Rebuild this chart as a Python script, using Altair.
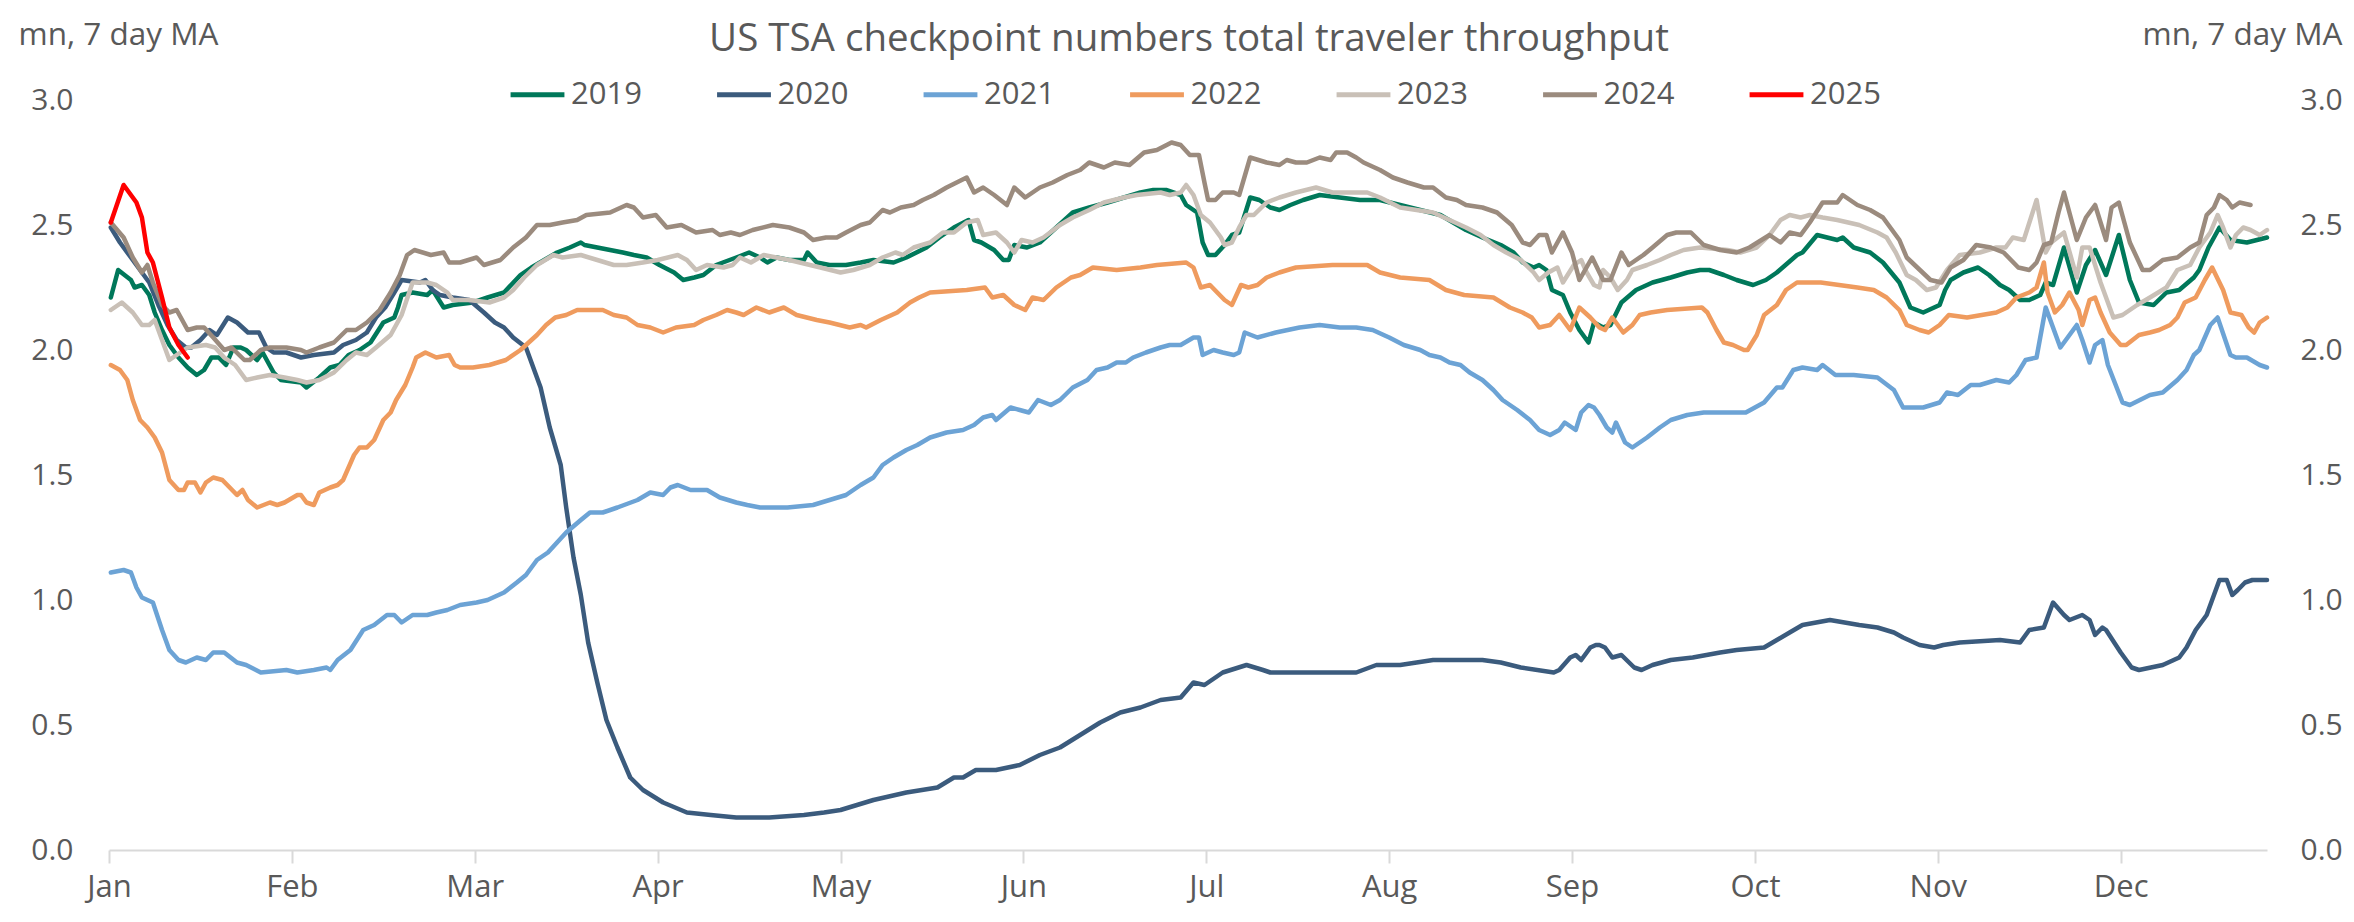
import json
import pandas as pd
import altair as alt

TITLE = "US TSA checkpoint numbers total traveler throughput"
UNIT = "mn, 7 day MA"
MONTHS = ["Jan", "Feb", "Mar", "Apr", "May", "Jun", "Jul", "Aug", "Sep", "Oct", "Nov", "Dec"]
YEARS = ["2019", "2020", "2021", "2022", "2023", "2024", "2025"]
COLORS = ["#00785A", "#3B5B7D", "#6CA3D5", "#EF9B5E", "#C9C0B7", "#9B8B7E", "#FF0000"]
Y_TICKS = [0.0, 0.5, 1.0, 1.5, 2.0, 2.5, 3.0]

# (position in months from 1 Jan, travellers in mn, 7 day moving average)
S2019 = [(0.01,2.21),(0.05,2.32),(0.12,2.28),(0.14,2.25),(0.18,2.26),(0.22,2.22),(0.25,2.15),(0.29,2.08),(0.33,2.02),(0.38,1.97),(0.43,1.93),(0.48,1.90),(0.52,1.92),(0.56,1.97),(0.60,1.97),(0.64,1.94),(0.68,2.01),(0.72,2.01),(0.75,2.00),(0.81,1.96),(0.84,1.99),(0.90,1.91),(0.94,1.88),(1.05,1.87),(1.08,1.85),(1.15,1.89),(1.21,1.93),(1.26,1.94),(1.31,1.98),(1.37,2.00),(1.43,2.03),(1.50,2.11),(1.56,2.13),(1.58,2.17),(1.60,2.22),(1.66,2.23),(1.74,2.22),(1.77,2.24),(1.83,2.17),(1.88,2.18),(1.99,2.19),(2.07,2.21),(2.16,2.23),(2.25,2.30),(2.31,2.33),(2.38,2.36),(2.45,2.39),(2.52,2.41),(2.58,2.43),(2.60,2.42),(2.67,2.41),(2.74,2.40),(2.81,2.39),(2.87,2.38),(2.94,2.37),(3.01,2.34),(3.09,2.31),(3.14,2.28),(3.20,2.29),(3.25,2.30),(3.32,2.34),(3.43,2.37),(3.50,2.39),(3.56,2.37),(3.60,2.35),(3.65,2.37),(3.72,2.36),(3.80,2.36),(3.82,2.39),(3.87,2.35),(3.94,2.34),(4.03,2.34),(4.11,2.35),(4.18,2.36),(4.29,2.35),(4.36,2.37),(4.47,2.41),(4.54,2.45),(4.62,2.49),(4.70,2.52),(4.73,2.44),(4.77,2.43),(4.84,2.40),(4.89,2.36),(4.92,2.36),(4.95,2.42),(5.02,2.41),(5.09,2.43),(5.18,2.49),(5.27,2.55),(5.36,2.57),(5.46,2.59),(5.55,2.61),(5.64,2.63),(5.71,2.64),(5.78,2.64),(5.86,2.62),(5.89,2.58),(5.95,2.55),(5.98,2.43),(6.01,2.38),(6.05,2.38),(6.10,2.42),(6.14,2.46),(6.18,2.47),(6.24,2.61),(6.29,2.60),(6.35,2.57),(6.40,2.56),(6.46,2.58),(6.53,2.60),(6.62,2.62),(6.73,2.61),(6.84,2.60),(6.95,2.60),(7.06,2.58),(7.17,2.56),(7.28,2.54),(7.35,2.51),(7.42,2.48),(7.51,2.45),(7.61,2.42),(7.68,2.39),(7.73,2.35),(7.79,2.33),(7.82,2.34),(7.86,2.32),(7.89,2.24),(7.95,2.22),(7.99,2.15),(8.04,2.08),(8.09,2.03),(8.12,2.11),(8.17,2.09),(8.21,2.10),(8.27,2.19),(8.35,2.24),(8.44,2.27),(8.54,2.29),(8.63,2.31),(8.70,2.32),(8.75,2.32),(8.83,2.30),(8.90,2.28),(8.99,2.26),(9.06,2.28),(9.12,2.31),(9.23,2.38),(9.26,2.39),(9.34,2.46),(9.45,2.44),(9.48,2.45),(9.54,2.41),(9.63,2.39),(9.70,2.35),(9.79,2.27),(9.85,2.17),(9.92,2.15),(10.01,2.18),(10.04,2.24),(10.07,2.28),(10.14,2.31),(10.22,2.33),(10.28,2.30),(10.34,2.26),(10.39,2.24),(10.45,2.20),(10.50,2.20),(10.56,2.22),(10.59,2.27),(10.63,2.26),(10.69,2.41),(10.76,2.23),(10.81,2.34),(10.86,2.40),(10.92,2.30),(10.99,2.46),(11.05,2.28),(11.10,2.19),(11.18,2.18),(11.25,2.23),(11.32,2.24),(11.40,2.29),(11.43,2.32),(11.48,2.41),(11.54,2.49),(11.60,2.44),(11.69,2.43),(11.80,2.45)]

S2020 = [(0.01,2.49),(0.06,2.43),(0.12,2.37),(0.17,2.32),(0.22,2.27),(0.27,2.18),(0.32,2.10),(0.37,2.04),(0.42,2.01),(0.45,2.01),(0.50,2.04),(0.55,2.08),(0.59,2.06),(0.65,2.13),(0.70,2.11),(0.76,2.07),(0.82,2.07),(0.86,2.01),(0.90,1.99),(0.97,1.99),(1.05,1.97),(1.12,1.98),(1.23,1.99),(1.28,2.02),(1.35,2.04),(1.41,2.07),(1.46,2.13),(1.51,2.17),(1.56,2.23),(1.60,2.28),(1.70,2.27),(1.73,2.28),(1.77,2.24),(1.81,2.22),(1.88,2.21),(1.97,2.20),(2.05,2.15),(2.11,2.11),(2.16,2.09),(2.21,2.05),(2.28,2.01),(2.30,1.97),(2.36,1.85),(2.41,1.69),(2.47,1.54),(2.50,1.37),(2.54,1.17),(2.58,1.02),(2.62,0.83),(2.67,0.67),(2.72,0.52),(2.78,0.41),(2.85,0.29),(2.92,0.24),(3.03,0.19),(3.16,0.15),(3.29,0.14),(3.43,0.13),(3.61,0.13),(3.80,0.14),(3.91,0.15),(4.00,0.16),(4.18,0.20),(4.36,0.23),(4.53,0.25),(4.62,0.29),(4.67,0.29),(4.74,0.32),(4.85,0.32),(4.98,0.34),(5.09,0.38),(5.20,0.41),(5.31,0.46),(5.42,0.51),(5.53,0.55),(5.64,0.57),(5.75,0.60),(5.86,0.61),(5.93,0.67),(5.99,0.66),(6.09,0.71),(6.22,0.74),(6.31,0.72),(6.35,0.71),(6.51,0.71),(6.69,0.71),(6.82,0.71),(6.93,0.74),(7.06,0.74),(7.24,0.76),(7.39,0.76),(7.51,0.76),(7.61,0.75),(7.72,0.73),(7.90,0.71),(7.93,0.72),(7.99,0.77),(8.02,0.78),(8.05,0.76),(8.10,0.81),(8.13,0.82),(8.15,0.82),(8.18,0.81),(8.22,0.77),(8.27,0.78),(8.34,0.73),(8.38,0.72),(8.44,0.74),(8.54,0.76),(8.66,0.77),(8.81,0.79),(8.90,0.80),(9.05,0.81),(9.12,0.84),(9.19,0.87),(9.26,0.90),(9.41,0.92),(9.57,0.90),(9.67,0.89),(9.76,0.87),(9.81,0.85),(9.90,0.82),(9.98,0.81),(10.03,0.82),(10.12,0.83),(10.34,0.84),(10.45,0.83),(10.50,0.88),(10.58,0.89),(10.63,0.99),(10.69,0.94),(10.72,0.92),(10.79,0.94),(10.83,0.92),(10.86,0.86),(10.90,0.89),(10.92,0.88),(11.00,0.79),(11.06,0.73),(11.10,0.72),(11.23,0.74),(11.32,0.77),(11.36,0.81),(11.41,0.88),(11.47,0.94),(11.51,1.02),(11.54,1.08),(11.58,1.08),(11.61,1.02),(11.64,1.04),(11.68,1.07),(11.72,1.08),(11.80,1.08)]

S2021 = [(0.01,1.11),(0.08,1.12),(0.12,1.11),(0.15,1.05),(0.18,1.01),(0.24,0.99),(0.29,0.88),(0.33,0.80),(0.38,0.76),(0.42,0.75),(0.48,0.77),(0.53,0.76),(0.57,0.79),(0.63,0.79),(0.70,0.75),(0.75,0.74),(0.83,0.71),(0.97,0.72),(1.03,0.71),(1.12,0.72),(1.19,0.73),(1.21,0.72),(1.25,0.76),(1.32,0.80),(1.39,0.88),(1.45,0.90),(1.52,0.94),(1.56,0.94),(1.60,0.91),(1.66,0.94),(1.74,0.94),(1.79,0.95),(1.85,0.96),(1.92,0.98),(2.01,0.99),(2.07,1.00),(2.16,1.03),(2.23,1.07),(2.28,1.10),(2.34,1.16),(2.40,1.19),(2.45,1.23),(2.50,1.27),(2.58,1.32),(2.63,1.35),(2.70,1.35),(2.78,1.37),(2.89,1.40),(2.96,1.43),(3.03,1.42),(3.07,1.45),(3.11,1.46),(3.18,1.44),(3.27,1.44),(3.34,1.41),(3.43,1.39),(3.49,1.38),(3.56,1.37),(3.71,1.37),(3.85,1.38),(3.94,1.40),(4.03,1.42),(4.11,1.46),(4.18,1.49),(4.23,1.54),(4.29,1.57),(4.36,1.60),(4.42,1.62),(4.49,1.65),(4.58,1.67),(4.67,1.68),(4.73,1.70),(4.78,1.73),(4.83,1.74),(4.85,1.72),(4.93,1.77),(4.98,1.76),(5.03,1.75),(5.08,1.80),(5.15,1.78),(5.20,1.80),(5.27,1.85),(5.35,1.88),(5.40,1.92),(5.46,1.93),(5.51,1.95),(5.56,1.95),(5.60,1.97),(5.67,1.99),(5.75,2.01),(5.80,2.02),(5.86,2.02),(5.93,2.05),(5.96,2.05),(5.98,1.98),(6.04,2.00),(6.09,1.99),(6.15,1.98),(6.18,1.99),(6.21,2.07),(6.28,2.05),(6.38,2.07),(6.51,2.09),(6.62,2.10),(6.73,2.09),(6.82,2.09),(6.91,2.08),(7.00,2.05),(7.08,2.02),(7.17,2.00),(7.22,1.98),(7.28,1.97),(7.33,1.95),(7.39,1.94),(7.44,1.91),(7.51,1.88),(7.57,1.84),(7.62,1.80),(7.70,1.76),(7.77,1.72),(7.82,1.68),(7.88,1.66),(7.93,1.68),(7.96,1.71),(8.02,1.68),(8.05,1.75),(8.09,1.78),(8.12,1.77),(8.15,1.74),(8.19,1.69),(8.22,1.67),(8.24,1.71),(8.29,1.63),(8.33,1.61),(8.41,1.65),(8.48,1.69),(8.54,1.72),(8.63,1.74),(8.72,1.75),(8.95,1.75),(9.05,1.79),(9.12,1.85),(9.15,1.85),(9.21,1.92),(9.26,1.93),(9.34,1.92),(9.37,1.94),(9.44,1.90),(9.54,1.90),(9.67,1.89),(9.76,1.84),(9.81,1.77),(9.92,1.77),(10.01,1.79),(10.05,1.83),(10.11,1.82),(10.18,1.86),(10.23,1.86),(10.32,1.88),(10.39,1.87),(10.43,1.90),(10.48,1.96),(10.54,1.97),(10.59,2.17),(10.67,2.01),(10.76,2.10),(10.79,2.04),(10.83,1.95),(10.86,2.02),(10.90,2.04),(10.93,1.94),(11.01,1.79),(11.05,1.78),(11.16,1.82),(11.23,1.83),(11.31,1.88),(11.36,1.92),(11.40,1.98),(11.43,2.00),(11.49,2.10),(11.53,2.13),(11.60,1.98),(11.63,1.97),(11.69,1.97),(11.76,1.94),(11.80,1.93)]

S2022 = [(0.01,1.94),(0.06,1.92),(0.10,1.88),(0.13,1.80),(0.17,1.72),(0.21,1.69),(0.25,1.65),(0.29,1.59),(0.33,1.48),(0.38,1.44),(0.41,1.44),(0.43,1.47),(0.47,1.47),(0.50,1.43),(0.53,1.47),(0.57,1.49),(0.62,1.48),(0.66,1.45),(0.70,1.42),(0.73,1.44),(0.76,1.40),(0.81,1.37),(0.88,1.39),(0.92,1.38),(0.96,1.39),(1.03,1.42),(1.05,1.42),(1.08,1.39),(1.12,1.38),(1.15,1.43),(1.21,1.45),(1.25,1.46),(1.28,1.48),(1.34,1.58),(1.37,1.61),(1.41,1.61),(1.45,1.64),(1.50,1.72),(1.54,1.75),(1.57,1.80),(1.62,1.86),(1.66,1.93),(1.68,1.97),(1.73,1.99),(1.76,1.98),(1.79,1.97),(1.86,1.98),(1.89,1.94),(1.92,1.93),(1.99,1.93),(2.08,1.94),(2.17,1.96),(2.25,2.00),(2.34,2.06),(2.39,2.10),(2.44,2.13),(2.50,2.14),(2.56,2.16),(2.70,2.16),(2.76,2.14),(2.83,2.13),(2.89,2.10),(2.96,2.09),(3.03,2.07),(3.10,2.09),(3.20,2.10),(3.25,2.12),(3.32,2.14),(3.38,2.16),(3.43,2.15),(3.47,2.14),(3.54,2.17),(3.61,2.15),(3.69,2.17),(3.76,2.14),(3.87,2.12),(3.94,2.11),(4.05,2.09),(4.11,2.10),(4.14,2.09),(4.22,2.12),(4.31,2.15),(4.38,2.19),(4.43,2.21),(4.49,2.23),(4.69,2.24),(4.79,2.25),(4.83,2.21),(4.89,2.22),(4.95,2.18),(5.01,2.16),(5.05,2.21),(5.11,2.20),(5.18,2.25),(5.26,2.29),(5.31,2.30),(5.38,2.33),(5.51,2.32),(5.64,2.33),(5.73,2.34),(5.89,2.35),(5.93,2.33),(5.97,2.25),(6.02,2.26),(6.06,2.23),(6.10,2.20),(6.14,2.18),(6.19,2.26),(6.23,2.25),(6.28,2.26),(6.33,2.29),(6.40,2.31),(6.49,2.33),(6.69,2.34),(6.88,2.34),(6.95,2.31),(7.06,2.29),(7.22,2.28),(7.31,2.24),(7.41,2.22),(7.57,2.21),(7.66,2.17),(7.73,2.15),(7.78,2.13),(7.82,2.09),(7.88,2.10),(7.93,2.14),(7.99,2.08),(8.04,2.17),(8.10,2.13),(8.15,2.09),(8.18,2.08),(8.22,2.13),(8.28,2.07),(8.33,2.10),(8.37,2.14),(8.43,2.15),(8.52,2.16),(8.71,2.17),(8.74,2.15),(8.79,2.08),(8.83,2.03),(8.88,2.02),(8.94,2.00),(8.96,2.00),(9.01,2.06),(9.05,2.14),(9.12,2.18),(9.17,2.24),(9.23,2.27),(9.36,2.27),(9.56,2.25),(9.65,2.24),(9.72,2.21),(9.79,2.16),(9.83,2.10),(9.90,2.08),(9.95,2.07),(10.01,2.10),(10.06,2.14),(10.16,2.13),(10.32,2.15),(10.38,2.17),(10.43,2.21),(10.50,2.23),(10.54,2.25),(10.58,2.35),(10.60,2.23),(10.64,2.15),(10.68,2.18),(10.72,2.23),(10.77,2.16),(10.79,2.10),(10.83,2.20),(10.86,2.21),(10.89,2.15),(10.94,2.07),(11.00,2.02),(11.03,2.02),(11.10,2.06),(11.16,2.07),(11.21,2.08),(11.27,2.10),(11.31,2.13),(11.35,2.19),(11.41,2.21),(11.46,2.28),(11.50,2.33),(11.56,2.24),(11.60,2.15),(11.66,2.14),(11.70,2.09),(11.73,2.07),(11.76,2.11),(11.80,2.13)]

S2023 = [(0.01,2.16),(0.07,2.19),(0.13,2.15),(0.18,2.10),(0.22,2.10),(0.25,2.12),(0.29,2.04),(0.33,1.96),(0.37,1.98),(0.43,2.01),(0.53,2.02),(0.58,2.01),(0.63,1.97),(0.69,1.94),(0.75,1.88),(0.81,1.89),(0.88,1.90),(0.96,1.89),(1.03,1.88),(1.08,1.87),(1.15,1.88),(1.23,1.91),(1.30,1.96),(1.35,1.99),(1.41,1.98),(1.46,2.01),(1.54,2.06),(1.60,2.14),(1.66,2.27),(1.74,2.27),(1.79,2.26),(1.85,2.23),(1.88,2.20),(1.97,2.20),(2.08,2.19),(2.16,2.21),(2.21,2.24),(2.27,2.29),(2.34,2.34),(2.43,2.38),(2.48,2.37),(2.58,2.38),(2.67,2.36),(2.76,2.34),(2.83,2.34),(2.92,2.35),(3.00,2.36),(3.11,2.38),(3.16,2.36),(3.21,2.32),(3.27,2.34),(3.36,2.33),(3.41,2.34),(3.45,2.37),(3.51,2.35),(3.58,2.38),(3.72,2.36),(3.89,2.33),(4.00,2.31),(4.07,2.32),(4.16,2.34),(4.23,2.37),(4.30,2.39),(4.34,2.38),(4.40,2.41),(4.49,2.43),(4.56,2.47),(4.62,2.47),(4.69,2.51),(4.75,2.52),(4.78,2.46),(4.85,2.47),(4.91,2.43),(4.95,2.39),(4.99,2.44),(5.05,2.43),(5.11,2.45),(5.20,2.50),(5.27,2.53),(5.36,2.56),(5.44,2.59),(5.55,2.61),(5.62,2.62),(5.75,2.63),(5.80,2.62),(5.86,2.63),(5.89,2.66),(5.93,2.62),(5.97,2.54),(6.02,2.51),(6.08,2.45),(6.10,2.42),(6.14,2.43),(6.18,2.49),(6.22,2.54),(6.26,2.54),(6.33,2.59),(6.40,2.61),(6.49,2.63),(6.60,2.65),(6.69,2.63),(6.88,2.63),(6.95,2.61),(7.06,2.57),(7.15,2.56),(7.24,2.55),(7.33,2.52),(7.42,2.49),(7.50,2.46),(7.57,2.42),(7.64,2.39),(7.72,2.36),(7.79,2.31),(7.82,2.28),(7.87,2.31),(7.92,2.33),(7.95,2.27),(8.01,2.34),(8.05,2.36),(8.08,2.31),(8.12,2.26),(8.15,2.25),(8.17,2.32),(8.21,2.29),(8.25,2.24),(8.30,2.28),(8.33,2.32),(8.41,2.34),(8.48,2.36),(8.54,2.38),(8.61,2.40),(8.70,2.41),(8.85,2.40),(8.92,2.39),(9.01,2.41),(9.08,2.46),(9.14,2.52),(9.19,2.54),(9.25,2.53),(9.30,2.54),(9.37,2.53),(9.45,2.52),(9.57,2.50),(9.67,2.47),(9.72,2.45),(9.77,2.39),(9.83,2.30),(9.88,2.28),(9.94,2.24),(9.99,2.25),(10.05,2.32),(10.12,2.38),(10.23,2.39),(10.32,2.41),(10.37,2.41),(10.41,2.45),(10.47,2.44),(10.54,2.60),(10.59,2.39),(10.62,2.43),(10.69,2.47),(10.76,2.29),(10.79,2.41),(10.83,2.41),(10.89,2.27),(10.96,2.13),(11.01,2.14),(11.09,2.18),(11.16,2.21),(11.25,2.25),(11.31,2.32),(11.38,2.34),(11.43,2.41),(11.49,2.47),(11.53,2.54),(11.56,2.49),(11.60,2.41),(11.63,2.46),(11.67,2.49),(11.71,2.48),(11.76,2.46),(11.80,2.48)]

S2024 = [(0.01,2.51),(0.08,2.45),(0.13,2.37),(0.18,2.31),(0.21,2.34),(0.24,2.27),(0.29,2.18),(0.33,2.15),(0.37,2.16),(0.43,2.08),(0.48,2.09),(0.52,2.09),(0.57,2.05),(0.63,2.00),(0.67,2.01),(0.74,1.96),(0.77,1.96),(0.83,2.00),(0.88,2.01),(0.97,2.01),(1.05,2.00),(1.08,1.99),(1.15,2.01),(1.23,2.03),(1.30,2.08),(1.35,2.08),(1.41,2.11),(1.48,2.16),(1.54,2.23),(1.59,2.30),(1.63,2.38),(1.67,2.40),(1.76,2.38),(1.83,2.39),(1.86,2.35),(1.92,2.35),(2.01,2.37),(2.05,2.34),(2.14,2.36),(2.21,2.41),(2.28,2.45),(2.34,2.50),(2.41,2.50),(2.48,2.51),(2.56,2.52),(2.61,2.54),(2.74,2.55),(2.83,2.58),(2.87,2.57),(2.92,2.53),(2.99,2.54),(3.05,2.49),(3.13,2.50),(3.21,2.47),(3.30,2.48),(3.34,2.46),(3.40,2.47),(3.45,2.46),(3.52,2.48),(3.63,2.50),(3.72,2.49),(3.80,2.47),(3.85,2.44),(3.92,2.45),(3.98,2.45),(4.03,2.47),(4.11,2.50),(4.16,2.51),(4.23,2.56),(4.27,2.55),(4.33,2.57),(4.40,2.58),(4.45,2.60),(4.51,2.62),(4.58,2.65),(4.69,2.69),(4.73,2.63),(4.78,2.65),(4.84,2.62),(4.91,2.58),(4.95,2.65),(5.01,2.61),(5.09,2.65),(5.16,2.67),(5.24,2.70),(5.31,2.72),(5.36,2.75),(5.44,2.73),(5.50,2.75),(5.58,2.74),(5.66,2.79),(5.73,2.80),(5.81,2.83),(5.86,2.82),(5.91,2.78),(5.96,2.78),(5.99,2.67),(6.01,2.60),(6.05,2.60),(6.09,2.63),(6.15,2.63),(6.18,2.62),(6.24,2.77),(6.33,2.75),(6.40,2.74),(6.44,2.76),(6.49,2.75),(6.55,2.75),(6.62,2.77),(6.68,2.76),(6.71,2.79),(6.77,2.79),(6.82,2.77),(6.86,2.75),(6.95,2.72),(7.02,2.69),(7.10,2.67),(7.19,2.65),(7.24,2.65),(7.31,2.61),(7.37,2.60),(7.42,2.58),(7.51,2.57),(7.59,2.55),(7.67,2.50),(7.73,2.43),(7.77,2.42),(7.82,2.46),(7.86,2.46),(7.89,2.39),(7.95,2.47),(8.00,2.39),(8.04,2.28),(8.11,2.37),(8.17,2.28),(8.21,2.28),(8.27,2.39),(8.31,2.34),(8.39,2.38),(8.44,2.41),(8.52,2.46),(8.57,2.47),(8.65,2.47),(8.72,2.42),(8.81,2.40),(8.90,2.39),(8.97,2.41),(9.08,2.46),(9.14,2.43),(9.19,2.47),(9.25,2.46),(9.30,2.51),(9.37,2.59),(9.45,2.59),(9.48,2.62),(9.56,2.58),(9.63,2.56),(9.70,2.53),(9.79,2.44),(9.83,2.37),(9.96,2.28),(10.02,2.27),(10.07,2.33),(10.14,2.36),(10.21,2.42),(10.29,2.41),(10.36,2.39),(10.44,2.33),(10.50,2.32),(10.54,2.35),(10.58,2.42),(10.62,2.43),(10.66,2.55),(10.69,2.63),(10.76,2.44),(10.81,2.53),(10.86,2.58),(10.92,2.44),(10.95,2.57),(10.99,2.59),(11.05,2.43),(11.12,2.32),(11.16,2.32),(11.23,2.36),(11.31,2.37),(11.38,2.41),(11.43,2.43),(11.47,2.54),(11.51,2.57),(11.54,2.62),(11.58,2.60),(11.61,2.57),(11.65,2.59),(11.71,2.58)]

S2025 = [(0.01,2.51),(0.08,2.66),(0.15,2.59),(0.18,2.53),(0.21,2.39),(0.24,2.35),(0.29,2.21),(0.33,2.09),(0.38,2.02),(0.43,1.97)]

SERIES = {"2019": S2019, "2020": S2020, "2021": S2021, "2022": S2022,
          "2023": S2023, "2024": S2024, "2025": S2025}

rows = []
for year in YEARS:
    for i, (m, v) in enumerate(SERIES[year]):
        rows.append({"year": year, "m": m, "v": v, "i": i})
df = pd.DataFrame(rows)

FONT = "Open Sans"
GREY = "#595959"
AXIS_GREY = "#D9D9D9"

label_expr = json.dumps(MONTHS) + "[datum.value]"

x_enc = alt.X(
    "m:Q",
    scale=alt.Scale(domain=[0, 11.8], nice=False, zero=False),
    axis=alt.Axis(
        values=list(range(12)), labelExpr=label_expr, grid=False,
        domainColor=AXIS_GREY, domainWidth=2, tickColor=AXIS_GREY, tickWidth=2,
        tickSize=13, labelFontSize=31, labelFont=FONT, labelColor=GREY,
        labelPadding=9, labelFlush=False, labelOverlap=False, title=None,
    ),
)

y_scale = alt.Scale(domain=[0, 3], nice=False, zero=True)

def y_axis(orient, pad, tx, talign):
    return alt.Axis(
        orient=orient, values=Y_TICKS, format=".1f", grid=False, domain=False,
        ticks=False, labelFontSize=30, labelFont=FONT, labelColor=GREY,
        labelPadding=pad, title=UNIT, titleAngle=0, titleX=tx, titleY=-56,
        titleAlign=talign, titleBaseline="alphabetic", titleFontSize=31.5,
        titleFont=FONT, titleColor=GREY, titleFontWeight="normal",
    )

lines = alt.Chart(df).mark_line(strokeWidth=4.5, strokeJoin="round", strokeCap="round").encode(
    x=x_enc,
    y=alt.Y("v:Q", scale=y_scale, axis=y_axis("left", 36, -91, "left")),
    color=alt.Color(
        "year:N",
        scale=alt.Scale(domain=YEARS, range=COLORS),
        sort=YEARS,
        legend=alt.Legend(
            orient="none", legendX=399, legendY=-35, direction="horizontal",
            columns=7, title=None, symbolType="stroke", symbolSize=2900,
            symbolStrokeWidth=5, labelFontSize=31, labelFont=FONT,
            labelColor=GREY, labelOffset=4, columnPadding=64.5, padding=0,
        ),
    ),
    order="i:Q",
)

right_axis = alt.Chart(df).mark_point(opacity=0).encode(
    x=x_enc,
    y=alt.Y("v:Q", scale=y_scale, axis=y_axis("right", 33, 75, "right")),
)

title_layer = alt.Chart(pd.DataFrame({"t": [TITLE]})).mark_text(
    font=FONT, fontSize=38.5, color=GREY, align="center", baseline="alphabetic"
).encode(text="t:N", x=alt.value(1080), y=alt.value(-49))

chart = (
    alt.layer(lines, right_axis, title_layer)
    .resolve_scale(y="independent")
    .properties(
        width=2158, height=750,
        padding={"left": 101, "top": 92, "right": 79, "bottom": 63},
        autosize=alt.AutoSizeParams(type="none"),
        background="white",
    )
    .configure_view(stroke=None)
)

chart.save("out.html", embed_options={"renderer": "svg", "actions": False})
